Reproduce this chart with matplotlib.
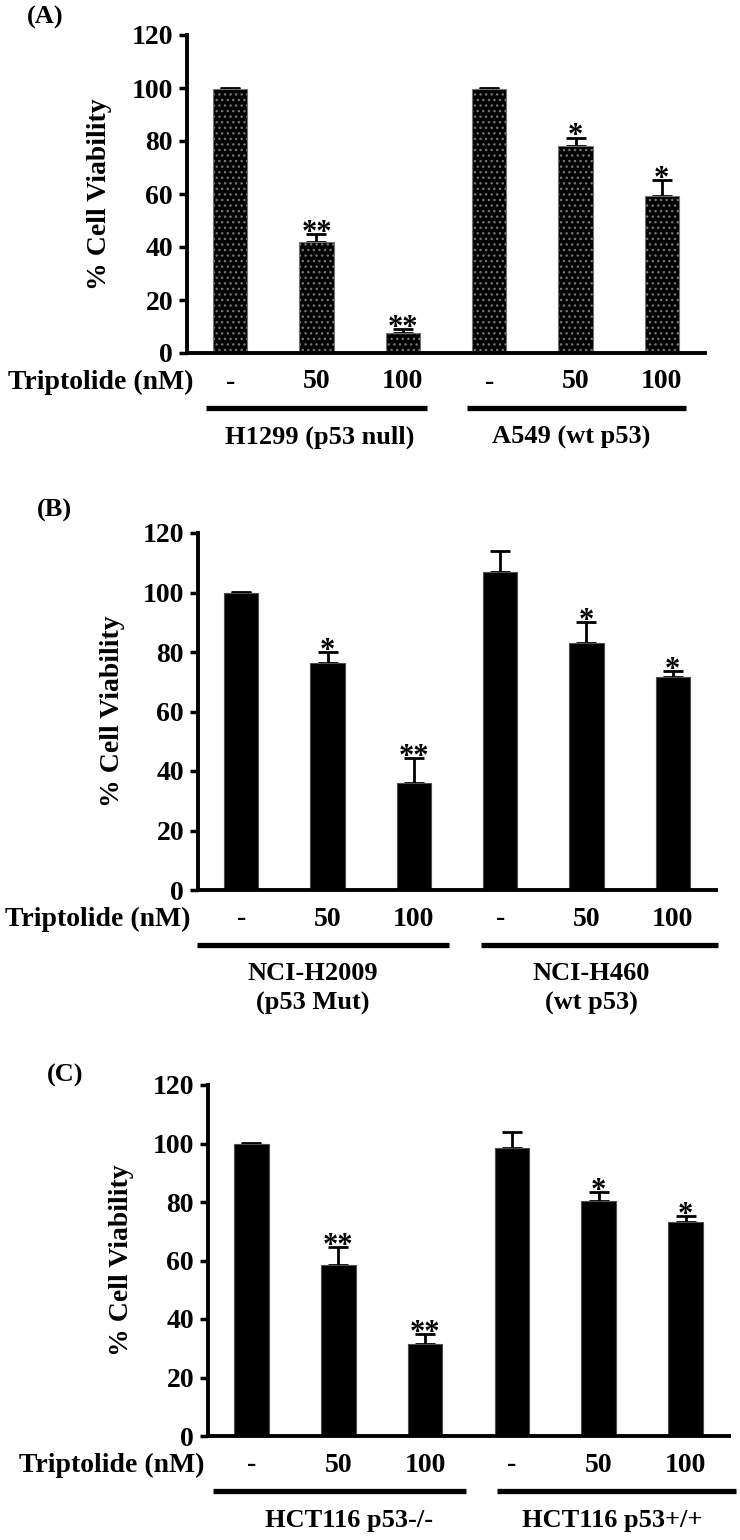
import matplotlib
matplotlib.use('Agg')
import matplotlib.pyplot as plt
import numpy as np

plt.rcParams['font.family'] = ['Liberation Serif', 'DejaVu Serif']
plt.rcParams['font.weight'] = 'bold'

# doses under every bar
doses = ['-', '50', '100', '-', '50', '100']

# panel A
a_cells = ['H1299 (p53 null)', 'A549 (wt p53)']
a_vals = [99.6, 42, 7.5, 99.6, 78.3, 59.3]
a_err = [0.4, 3, 1.5, 0.4, 3, 6]
a_marks = ['', '**', '**', '', '*', '*']

# panel B
b_cells = [['NCI-H2009', '(p53 Mut)'], ['NCI-H460', '(wt p53)']]
b_vals = [100, 76.3, 36, 106.9, 83, 71.6]
b_err = [0.3, 3.7, 8.5, 7, 7, 2]
b_marks = ['', '*', '**', '', '*', '*']

# panel C
c_cells = ['HCT116 p53-/-', 'HCT116 p53+/+']
c_vals = [100, 58.5, 31.5, 98.5, 80.3, 73.2]
c_err = [0.3, 6, 3.5, 5.5, 3, 2]
c_marks = ['', '**', '**', '', '*', '*']

W, H = 740, 1540
fig = plt.figure(figsize=(W / 100, H / 100), dpi=100)


def draw_panel(left, right, y0, y120, letter, letter_xy, vals, errs, marks,
               cells, cell_x, lines, trip_x, ylab_x, hatch=None):
    ax = fig.add_axes([left / W, 1 - y0 / H, (right - left) / W, (y0 - y120) / H])
    x = np.arange(len(vals))
    ax.bar(x, vals, width=0.4, color='black', edgecolor='0.45' if hatch else '0.3',
           linewidth=0.8, hatch=hatch, zorder=2)
    ax.errorbar(x, vals, yerr=[np.zeros(len(errs)), errs], fmt='none', ecolor='black',
                elinewidth=2, capsize=7, capthick=2, zorder=1)
    ax.set_xlim(-0.5, 5.5)
    ax.set_ylim(0, 120)
    ax.set_yticks(range(0, 121, 20))
    ax.set_xticks([])
    for s in ['top', 'right']:
        ax.spines[s].set_visible(False)
    for s in ['left', 'bottom']:
        ax.spines[s].set_linewidth(2.8)
    ax.tick_params(axis='y', length=6, width=2.5, labelsize=20, pad=4)
    for lab in ax.get_yticklabels():
        lab.set_fontweight('bold')

    for xi, v, e, m in zip(x, vals, errs, marks):
        if m:
            ax.annotate(m, (xi, v + e), xytext=(0, -5), textcoords='offset points',
                        ha='center', va='baseline', fontsize=22)

    px = y0 - y120
    tr = ax.get_xaxis_transform()
    for xi, d in zip(x, doses):
        ax.text(xi, -29 / px, d, transform=tr, ha='center', va='center',
                fontsize=20, clip_on=False)
    for x0, x1 in lines:
        ax.plot([x0, x1], [-55 / px, -55 / px], transform=tr, color='black',
                lw=3.8, clip_on=False, solid_capstyle='butt')
    for cx, name in zip(cell_x, cells):
        rows = name if isinstance(name, list) else [name]
        for i, row in enumerate(rows):
            ax.text(cx, -(84 + 29 * i) / px, row, transform=tr, ha='center',
                    va='center', fontsize=19, clip_on=False)

    fig.text(trip_x / W, 1 - (y0 + 29) / H, 'Triptolide (nM)', ha='center',
             va='center', fontsize=20)
    ax.text((ylab_x - left) / (right - left), 0.5, '% Cell Viability',
            transform=ax.transAxes, rotation=90, ha='center', va='center', fontsize=20)
    fig.text(letter_xy[0] / W, 1 - letter_xy[1] / H, letter, ha='left',
             va='center', fontsize=19)
    return ax


draw_panel(187, 705, 353, 35, '(A)', (27, 17), a_vals, a_err, a_marks,
           a_cells, [1.04, 3.95], [(-0.28, 2.28), (2.74, 5.28)], 101, 100,
           hatch='...')
draw_panel(198, 716, 890, 533, '(B)', (37, 510), b_vals, b_err, b_marks,
           b_cells, [0.83, 4.06], [(-0.51, 2.41), (2.78, 5.52)], 98, 112)
draw_panel(208, 729, 1436, 1085, '(C)', (47, 1075), c_vals, c_err, c_marks,
           c_cells, [1.12, 4.16], [(-0.44, 2.47), (2.83, 5.58)], 112, 122)

fig.savefig('out.png', dpi=100)
